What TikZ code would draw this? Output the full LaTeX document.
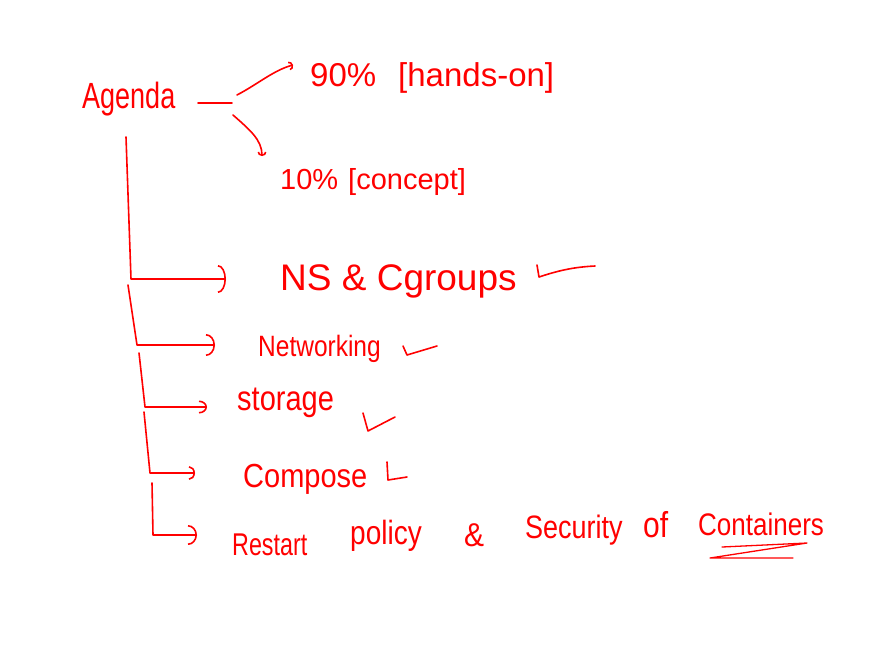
\documentclass[tikz,border=0pt]{standalone}
\usepackage{fontspec}
\setmainfont{Liberation Sans}
\usepackage{graphicx}
\usetikzlibrary{arrows.meta}
\definecolor{ink}{RGB}{255,0,0}
\newcommand\hwsize[1]{\fontsize{#1pt}{#1pt}\selectfont}
\newcommand\vstretch[2]{\scalebox{1}[#1]{#2}}
\tikzset{
  hand/.style={text=ink, inner sep=0pt, anchor=base west},
  pen/.style={draw=ink, line width=1.6pt, line cap=round, line join=round},
  barb/.style 2 args={pen, -{Arc Barb[length=#1, width=#2]}},
  tick/.style={draw=ink, line width=1.6pt, line cap=round, line join=round},
}
\begin{document}
\begin{tikzpicture}[x=1pt, y=-1pt]
\fill[white] (0,0) rectangle (888,657);
\useasboundingbox (0,0) rectangle (888,657);

% texts
\node[hand, font=\hwsize{27}] (agenda) at (82,108) {\vstretch{1.35}{Agenda}};
\node[hand, font=\hwsize{33}] (handson) at (310,86) {90\%\hspace{22pt}[hands-on]};
\node[hand, font=\hwsize{29}] (concept) at (280,189) {10\%\hspace{10pt}[concept]};
\node[hand, font=\hwsize{37}] (ns) at (280,290) {NS \& Cgroups};
\node[hand, font=\hwsize{24.5}] (net) at (258,356) {\vstretch{1.2}{Networking}};
\node[hand, font=\hwsize{29}] (sto) at (237,410) {\vstretch{1.2}{storage}};
\node[hand, font=\hwsize{29}] (comp) at (243,487) {\vstretch{1.15}{Compose}};
\node[hand, font=\hwsize{23.3}] (rest) at (232,555) {\vstretch{1.35}{Restart}};
\node[hand, font=\hwsize{28}] (pol) at (350,544) {\vstretch{1.2}{policy}};
\node[hand, font=\hwsize{30}] (amp) at (464,546) {\vstretch{1.1}{\&}};
\node[hand, font=\hwsize{27}] (sec) at (525,538) {\vstretch{1.2}{Security}};
\node[hand, font=\hwsize{30}] (of) at (643,537) {\vstretch{1.2}{of}};
\node[hand, font=\hwsize{26}] (cont) at (698,535) {\vstretch{1.2}{Containers}};

% top connectors
\coordinate (dashA) at (198,103);
\coordinate (dashB) at (232,103);
\coordinate (upS) at (237,95);
\coordinate (upE) at (293,65);
\coordinate (dnS) at (233,115);
\coordinate (dnE) at (262,156);
\draw[pen] (dashA) -- (dashB);
\draw[barb={4pt}{9pt}] (upS) .. controls (258,84) and (274,70) .. (upE);
\draw[barb={4pt}{9pt}] (dnS) .. controls (250,130) and (262,140) .. (dnE);

% bracket connectors
\coordinate (v1a) at (126,137); \coordinate (v1b) at (131,279); \coordinate (v1c) at (226,279);
\coordinate (v2a) at (128,285); \coordinate (v2b) at (137,345); \coordinate (v2c) at (215,345);
\coordinate (v3a) at (139,353); \coordinate (v3b) at (145,407); \coordinate (v3c) at (207,407);
\coordinate (v4a) at (144,412); \coordinate (v4b) at (150,473); \coordinate (v4c) at (195,473);
\coordinate (v5a) at (152,483); \coordinate (v5b) at (153,535); \coordinate (v5c) at (197,535);
\draw[barb={8pt}{28pt}] (v1a) -- (v1b) -- (v1c);
\draw[barb={9pt}{22pt}] (v2a) -- (v2b) -- (v2c);
\draw[barb={8pt}{13pt}] (v3a) -- (v3b) -- (v3c);
\draw[barb={6pt}{14pt}] (v4a) -- (v4b) -- (v4c);
\draw[barb={9pt}{20pt}] (v5a) -- (v5b) -- (v5c);

% check marks
\draw[tick] (537,265) -- (539,277) .. controls (560,270) and (575,267) .. (595,266);
\draw[tick] (403,346) -- (407,355) -- (437,346);
\draw[tick] (363,413) -- (368,431) -- (395,417);
\draw[tick] (387,462) -- (388,480) -- (407,477);

% underline of Containers
\draw[tick, line width=1.3pt] (722,547) -- (807,543) -- (710,558) -- (793,558);
\end{tikzpicture}
\end{document}
